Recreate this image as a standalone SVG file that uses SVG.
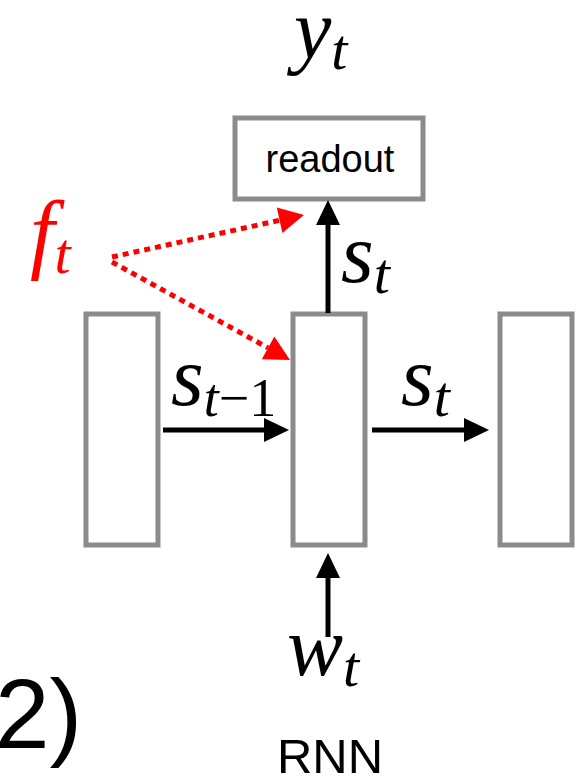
<svg xmlns="http://www.w3.org/2000/svg" width="588" height="779" viewBox="0 0 588 779">
<style>
.box{fill:#fff;stroke:#898b8e;stroke-width:5}
.lbl{font-family:"Liberation Sans",Arial,sans-serif;fill:#000}
.math{font-family:"Liberation Serif","Times New Roman",serif;font-style:italic;fill:#000}
.up{font-style:normal}
.red{fill:#ff0000}
.arr{stroke:#000;stroke-width:5;fill:none}
.dot{stroke:#ff0000;stroke-width:5;fill:none;stroke-dasharray:6 5}
</style>
<defs>
<marker id="ah" markerUnits="userSpaceOnUse" markerWidth="26" markerHeight="26" refX="0" refY="12" orient="auto" overflow="visible">
<path d="M0,0 L25,12 L0,24 z" fill="#000"/>
</marker>
<marker id="ahr" markerUnits="userSpaceOnUse" markerWidth="26" markerHeight="28" refX="0" refY="13" orient="auto" overflow="visible">
<path d="M0,0 L25,13 L0,26 z" fill="#ff0000"/>
</marker>
</defs>
<rect width="588" height="779" fill="#fff"/>

<g id="readout">
<rect class="box" x="235" y="118" width="188" height="81"/>
<text class="lbl" x="330" y="172" font-size="38" text-anchor="middle">readout</text>
</g>
<g id="cell-prev"><rect class="box" x="86" y="314" width="72" height="231"/></g>
<g id="cell-cur"><rect class="box" x="293" y="314" width="72" height="231"/></g>
<g id="cell-next"><rect class="box" x="500" y="314" width="72" height="231"/></g>

<g id="connectors">
<line class="arr" x1="328" y1="313" x2="328" y2="225" marker-end="url(#ah)"/>
<line class="arr" x1="163" y1="430" x2="264" y2="430" marker-end="url(#ah)"/>
<line class="arr" x1="372" y1="430" x2="464" y2="430" marker-end="url(#ah)"/>
<line class="arr" x1="328" y1="637" x2="328" y2="578" marker-end="url(#ah)"/>
<line class="dot" x1="112" y1="257" x2="279.6" y2="220.3" marker-end="url(#ahr)"/>
<line class="dot" x1="112" y1="262" x2="268.1" y2="347.9" marker-end="url(#ahr)"/>
</g>

<g id="labels">
<text class="math" x="294" y="58" font-size="84">y<tspan font-size="58" dy="11">t</tspan></text>
<text class="math red" x="30" y="262" font-size="88">f<tspan font-size="58" dy="11">t</tspan></text>
<text class="math" x="341" y="282" font-size="84">s<tspan font-size="58" dy="11">t</tspan></text>
<text class="math" x="171" y="405" font-size="84">s<tspan font-size="54" dy="11">t<tspan class="up">−1</tspan></tspan></text>
<text class="math" x="401" y="405" font-size="84">s<tspan font-size="58" dy="11">t</tspan></text>
<text class="math" x="287" y="675" font-size="84">w<tspan font-size="58" dy="11">t</tspan></text>
<text class="lbl" x="-5" y="748" font-size="98">2)</text>
<text class="lbl" x="330" y="773" font-size="49" text-anchor="middle">RNN</text>
</g>
</svg>
